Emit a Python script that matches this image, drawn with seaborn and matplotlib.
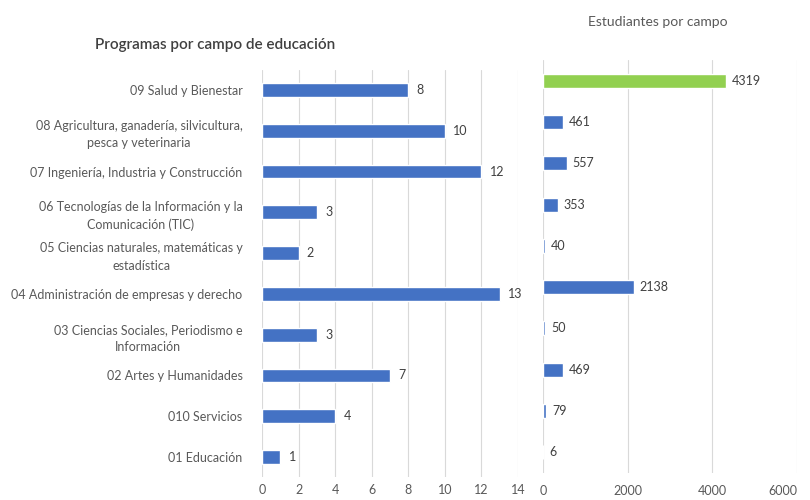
import matplotlib
matplotlib.use("Agg")
import matplotlib.pyplot as plt
import seaborn as sns
import pandas as pd

sns.set_theme(style="white")
plt.rcParams['font.family'] = ['Lato', 'DejaVu Sans']

categories = [
    "09 Salud y Bienestar",
    "08 Agricultura, ganadería, silvicultura,\npesca y veterinaria",
    "07 Ingeniería, Industria y Construcción",
    "06 Tecnologías de la Información y la\nComunicación (TIC)",
    "05 Ciencias naturales, matemáticas y\nestadística",
    "04 Administración de empresas y derecho",
    "03 Ciencias Sociales, Periodismo e\nInformación",
    "02 Artes y Humanidades",
    "010 Servicios",
    "01 Educación",
]
programas = [8, 10, 12, 3, 2, 13, 3, 7, 4, 1]
estudiantes = [4319, 461, 557, 353, 40, 2138, 50, 469, 79, 6]
prog_ticks = [0, 2, 4, 6, 8, 10, 12, 14]
est_ticks = [0, 2000, 4000, 6000]

BLUE = "#4472C4"
GREEN = "#92D050"
TXT = "#595959"
GRID = "#D9D9D9"

df = pd.DataFrame({"cat": categories, "prog": programas, "est": estudiantes})

fig = plt.figure(figsize=(8.1, 5.0), dpi=100)

# Left chart
ax1 = fig.add_axes([262/810, (500-477.4)/500, 256/810, 407.8/500])
sns.barplot(data=df, x="prog", y="cat", orient="h", color=BLUE, width=0.34,
            saturation=1, ax=ax1)
ax1.set_xlim(0, 14)
ax1.set_ylim(9.5, -0.5)
ax1.set_xticks(prog_ticks)
ax1.set_xlabel("")
ax1.set_ylabel("")
ax1.grid(axis="x", color=GRID, linewidth=0.8)
ax1.set_axisbelow(True)
for s in ax1.spines.values():
    s.set_visible(False)
ax1.tick_params(axis="x", length=0, pad=5, labelsize=9, labelcolor=TXT)
ax1.tick_params(axis="y", length=0, pad=14, labelsize=9, labelcolor=TXT)
for lab in ax1.get_yticklabels():
    lab.set_multialignment("center")
    lab.set_linespacing(1.55)
for i, v in enumerate(programas):
    ax1.text(v + 0.45, i, str(v), va="center", ha="left", fontsize=9, color="#404040")

fig.text(95/810, 1 - 45/500, "Programas por campo de educación", fontsize=11,
         fontweight="semibold", color="#404040", va="center", ha="left")

# Right chart
ax2 = fig.add_axes([543/810, (500-472.6)/500, 254/810, 412.2/500])
colors = [GREEN] + [BLUE] * (len(estudiantes) - 1)
sns.barplot(data=df, x="est", y="cat", orient="h", hue="cat", palette=colors,
            legend=False, width=0.34, saturation=1, ax=ax2)
ax2.set_xlim(0, 6000)
ax2.set_ylim(9.5, -0.5)
ax2.set_xticks(est_ticks)
ax2.set_xlabel("")
ax2.set_ylabel("")
ax2.set_yticks([])
ax2.grid(axis="x", color=GRID, linewidth=0.8)
ax2.set_axisbelow(True)
for s in ax2.spines.values():
    s.set_visible(False)
ax2.tick_params(axis="x", length=0, pad=9, labelsize=9, labelcolor=TXT)
ax2.get_xticklabels()[-1].set_horizontalalignment("right")
for i, v in enumerate(estudiantes):
    ax2.text(v + 140, i, str(v), va="center", ha="left", fontsize=9, color="#404040")

fig.text(658/810, 1 - 22/500, "Estudiantes por campo", fontsize=10,
         color=TXT, va="center", ha="center")

fig.savefig("out.png", dpi=100)
